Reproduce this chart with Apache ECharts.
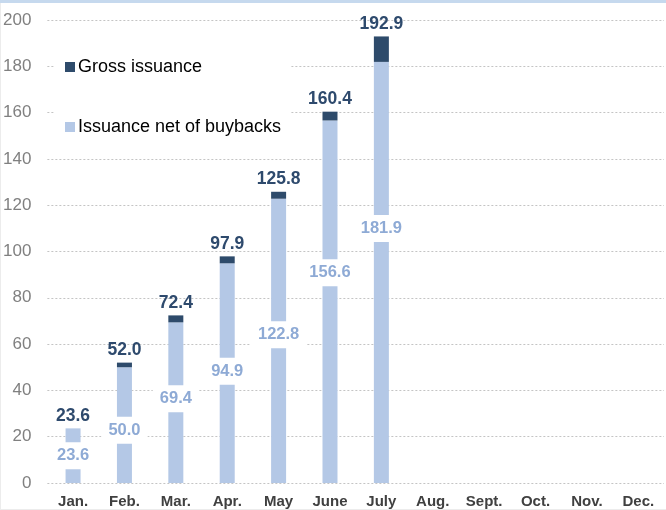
<!DOCTYPE html>
<html>
<head>
<meta charset="utf-8">
<script src="https://cdn.jsdelivr.net/npm/echarts@6/dist/echarts.min.js"></script>
<style>
  html, body { margin: 0; padding: 0; background: #fff; }
  #chart { width: 666px; height: 510px; }
</style>
</head>
<body>
<div id="chart"></div>
<script>
// Monthly issuance, cumulative (bn)
const months = ['Jan.', 'Feb.', 'Mar.', 'Apr.', 'May', 'June', 'July', 'Aug.', 'Sept.', 'Oct.', 'Nov.', 'Dec.'];
const grossIssuance = [23.6, 52.0, 72.4, 97.9, 125.8, 160.4, 192.9, null, null, null, null, null];
const netOfBuybacks = [23.6, 50.0, 69.4, 94.9, 122.8, 156.6, 181.9, null, null, null, null, null];
const yTicks = { min: 0, max: 200, interval: 20 };

// Vertical nudge (px) of each net label from the middle of its bar
const netLabelNudge = [0, 5, -4, -2, -6, -29, -44, 0, 0, 0, 0, 0];

// Dark segment = gross minus net, stacked on top of the net bar
const buybackGap = grossIssuance.map((g, i) =>
  g == null ? null : +(g - netOfBuybacks[i]).toFixed(1));

const FONT = '"Liberation Sans", Arial, sans-serif';
const DARK = '#2e4b6b';
const LIGHT = '#b4c8e6';

const netData = netOfBuybacks.map((v, i) => ({
  value: v,
  label: { offset: [0, netLabelNudge[i]] }
}));

const chart = echarts.init(document.getElementById('chart'), null, { renderer: 'canvas' });
chart.setOption({
  animation: false,
  backgroundColor: '#fff',
  textStyle: { fontFamily: FONT },
  graphic: [
    { type: 'rect', left: 0, top: 0, shape: { width: 666, height: 3 }, style: { fill: '#c6d9ee' }, z: 100 },
    { type: 'rect', left: 0, top: 509, shape: { width: 666, height: 1 }, style: { fill: '#ececec' }, z: 100 },
    { type: 'rect', left: 0, top: 3, shape: { width: 1, height: 507 }, style: { fill: '#ececec' }, z: 100 }
  ],
  grid: { left: 46, right: 2, top: 20, bottom: 27, containLabel: false },
  legend: {
    orient: 'vertical',
    left: 54,
    top: 50,
    padding: [8, 10, 8, 11],
    backgroundColor: '#fff',
    itemWidth: 10,
    itemHeight: 10,
    itemGap: 42,
    textStyle: { fontFamily: FONT, fontSize: 18, color: '#000', lineHeight: 16, padding: [0, 0, 0, -2] },
    data: [
      { name: 'Gross issuance', icon: 'rect', itemStyle: { color: DARK } },
      { name: 'Issuance net of buybacks', icon: 'rect', itemStyle: { color: LIGHT } }
    ],
    selectedMode: false,
    z: 10
  },
  xAxis: {
    type: 'category',
    data: months,
    axisLine: { show: false },
    axisTick: { show: false },
    axisLabel: { color: '#404040', fontWeight: 'bold', fontSize: 15, margin: 11, fontFamily: FONT }
  },
  yAxis: {
    type: 'value',
    min: yTicks.min,
    max: yTicks.max,
    interval: yTicks.interval,
    axisLine: { show: false },
    axisTick: { show: false },
    axisLabel: { color: '#808080', fontSize: 17, margin: 16, fontFamily: FONT },
    splitLine: { lineStyle: { color: '#c4c4c4', type: [2, 2], width: 1 } }
  },
  series: [
    {
      name: 'Issuance net of buybacks',
      type: 'bar',
      stack: 'issuance',
      barWidth: 15,
      data: netData,
      itemStyle: { color: LIGHT },
      label: {
        show: true,
        position: 'inside',
        color: '#8eaad5',
        fontWeight: 'bold',
        fontSize: 16.5,
        lineHeight: 17,
        fontFamily: FONT,
        backgroundColor: '#fff',
        padding: [5, 7, 5, 7],
        formatter: p => p.value == null ? '' : p.value.toFixed(1)
      },
      z: 2
    },
    {
      name: 'Gross issuance',
      type: 'bar',
      stack: 'issuance',
      barWidth: 15,
      data: buybackGap,
      itemStyle: { color: DARK },
      label: {
        show: true,
        position: 'top',
        distance: 4,
        color: '#2e4a6d',
        fontWeight: 'bold',
        fontSize: 17.5,
        lineHeight: 17,
        fontFamily: FONT,
        formatter: p => grossIssuance[p.dataIndex] == null ? '' : grossIssuance[p.dataIndex].toFixed(1)
      },
      z: 3
    }
  ]
});
</script>
</body>
</html>
